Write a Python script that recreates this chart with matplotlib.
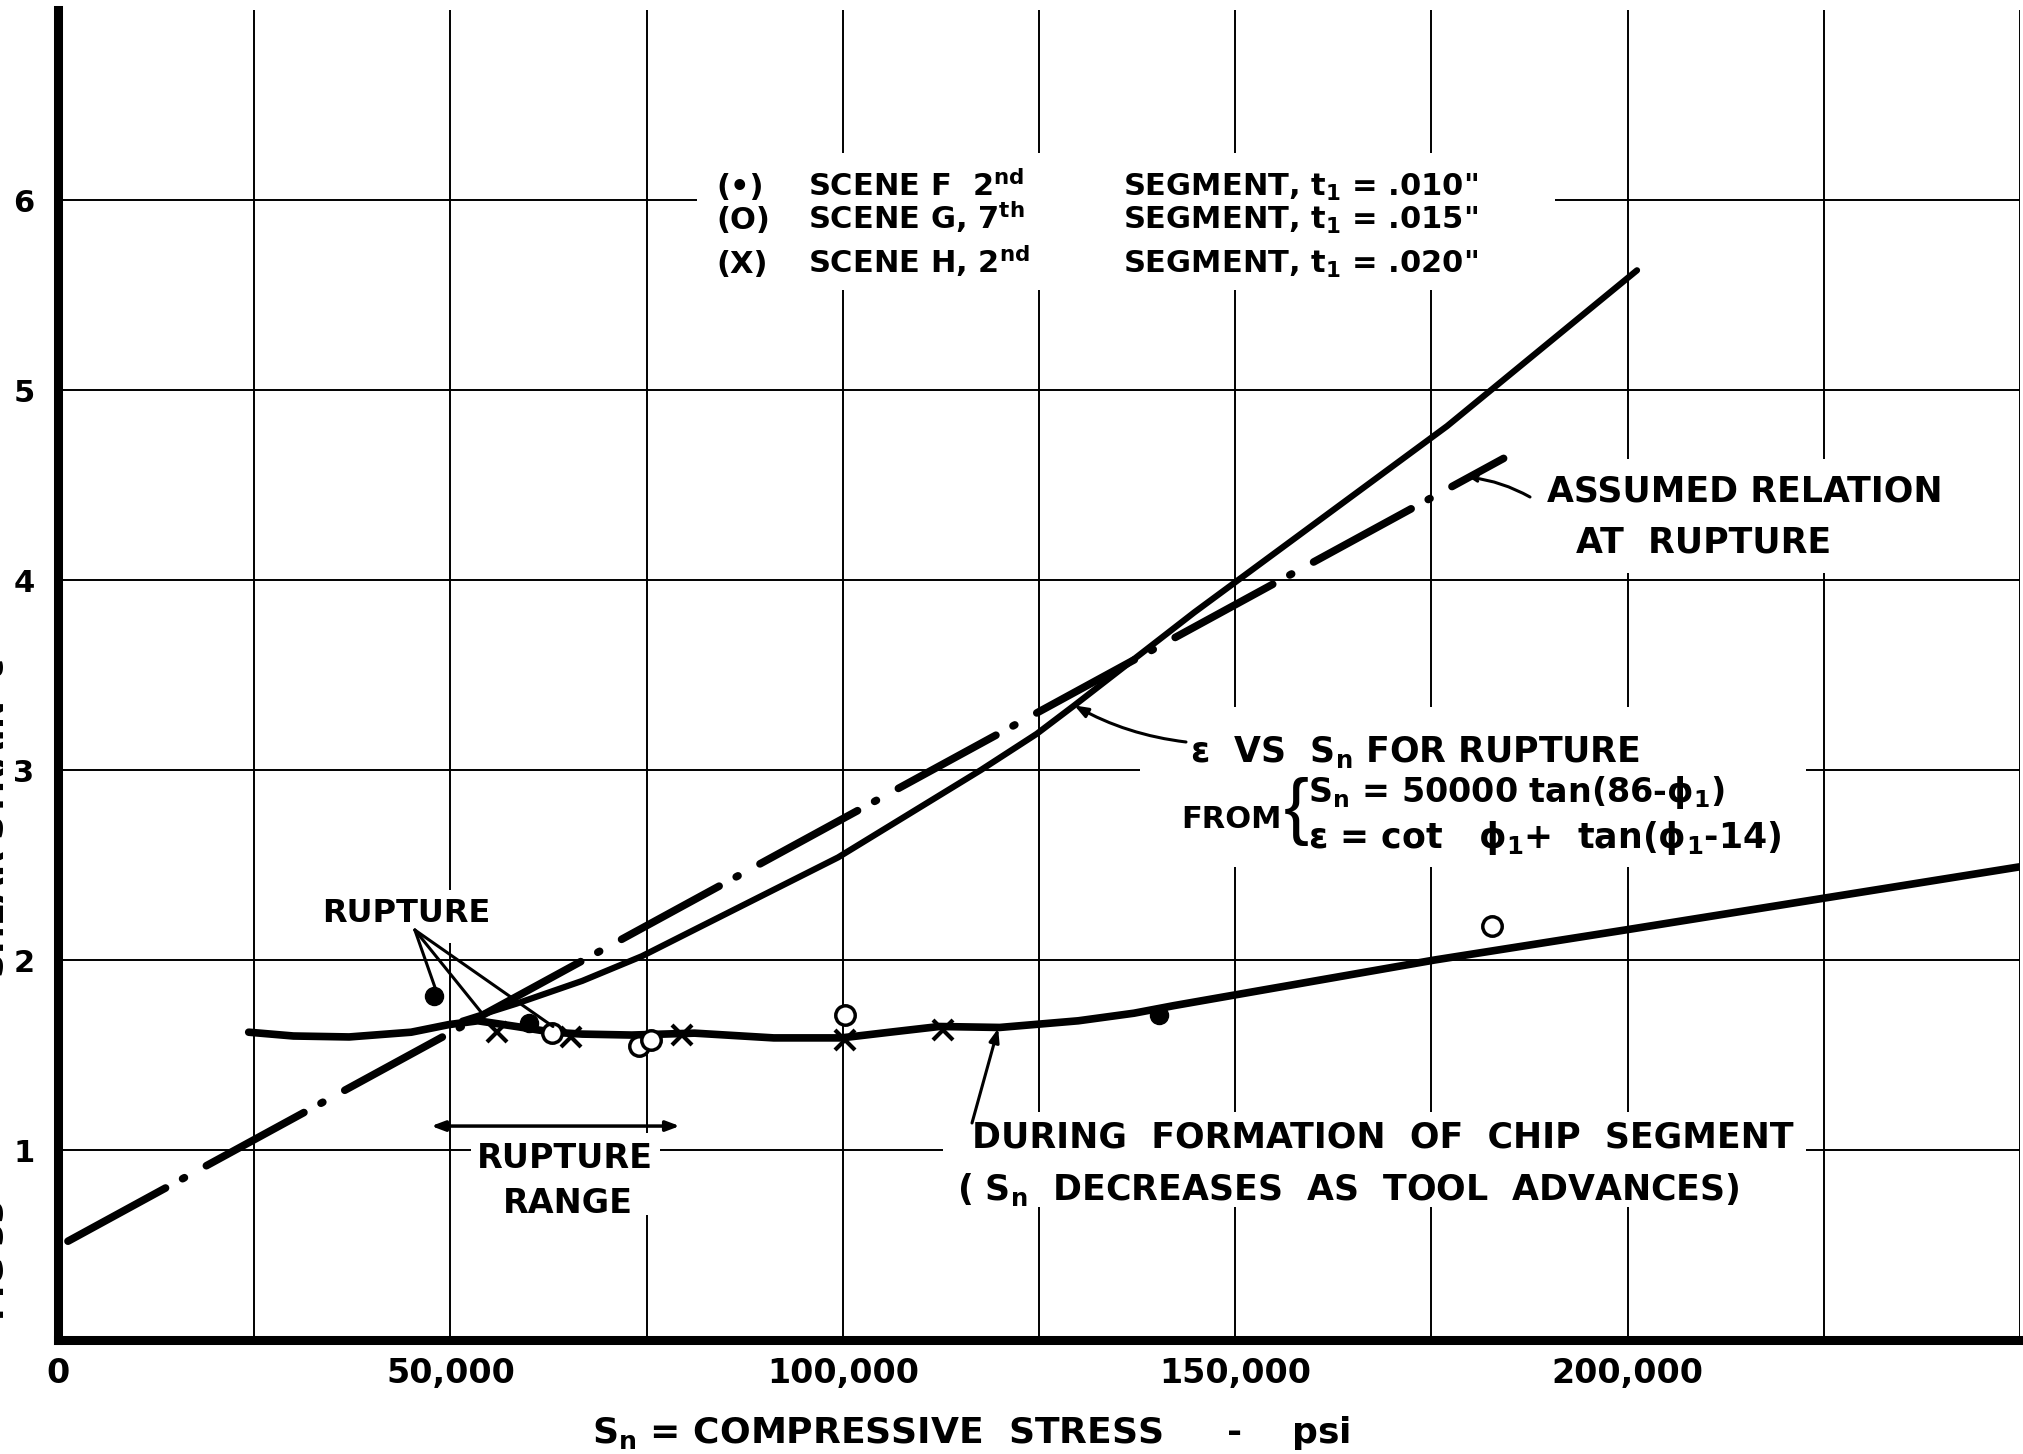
import matplotlib.pyplot as plt
from matplotlib.patches import Rectangle
import numpy as np

plt.rcParams['font.family'] = ['DejaVu Sans']
plt.rcParams['font.weight'] = 'bold'
plt.rcParams['mathtext.fontset'] = 'dejavusans'
plt.rcParams['mathtext.default'] = 'bf'
plt.rcParams['lines.scale_dashes'] = False

W, H = 2023, 1454

# ---- values (Sn in psi, strain) ----
rupture_sn = [51500, 58400, 66800, 74400, 81600, 99400, 117600, 124700,
              129500, 144800, 177000, 201200]
rupture_eps = [1.68, 1.77, 1.89, 2.02, 2.17, 2.54, 3.00, 3.19,
               3.34, 3.83, 4.81, 5.63]

assumed_sn = [1270, 184200]
assumed_eps = [0.52, 4.64]

formation_sn = [24300, 30000, 37100, 45000, 49800, 53500, 58400, 63000, 66800,
                73100, 81100, 91200, 99800, 106000, 112300, 120000, 130000,
                137100, 142200, 175400, 200000, 249900]
formation_eps = [1.62, 1.60, 1.595, 1.62, 1.66, 1.68, 1.65, 1.62, 1.61,
                 1.605, 1.615, 1.59, 1.59, 1.62, 1.65, 1.645, 1.68,
                 1.72, 1.76, 2.00, 2.16, 2.49]

scene_f_sn = [47900, 60000, 140300]
scene_f_eps = [1.81, 1.67, 1.71]
scene_g_sn = [62900, 74000, 75500, 100300, 182700]
scene_g_eps = [1.615, 1.55, 1.58, 1.71, 2.18]
scene_h_sn = [55900, 65400, 79500, 100300, 112800]
scene_h_eps = [1.62, 1.595, 1.605, 1.58, 1.63]

rupture_range = [47560, 79220]
rupture_range_eps = 1.126

x_ticks = list(range(0, 250001, 25000))
x_labels = ['0', '', '50,000', '', '100,000', '', '150,000', '', '200,000', '', '']
y_ticks = [0, 1, 2, 3, 4, 5, 6]
y_labels = ['', '1', '2', '3', '4', '5', '6']


def fx(p):
    return p / W


def fy(p):
    return 1 - p / H


fig = plt.figure(figsize=(W / 100, H / 100), dpi=100)
ax = fig.add_axes([fx(58), fy(1340), (2020 - 58) / W, (1340 - 10) / H])
ax.set_xlim(0, 250000)
ax.set_ylim(0, 7)

ax.set_xticks(x_ticks)
ax.set_xticklabels(x_labels, fontsize=24, fontweight='bold')
ax.set_yticks(y_ticks)
ax.set_yticklabels(y_labels, fontsize=22, fontweight='bold')
ax.tick_params(axis='x', length=0, pad=12)
ax.tick_params(axis='y', length=0, pad=17)
ax.grid(True, color='black', lw=1.4)
ax.set_axisbelow(True)
for s in ['top', 'right']:
    ax.spines[s].set_visible(False)
for s in ['left', 'bottom']:
    ax.spines[s].set_linewidth(6.5)

# white masks where the lettering interrupts the grid
masks = [(697, 153, 1555, 290), (1535, 459, 1960, 573), (1140, 707, 1806, 867),
         (943, 1112, 1806, 1207), (471, 1133, 660, 1215), (315, 890, 500, 943)]
for x0, y0, x1, y1 in masks:
    ax.add_patch(Rectangle((fx(x0), fy(y1)), (x1 - x0) / W, (y1 - y0) / H,
                           transform=fig.transFigure, fc='white', ec='none', zorder=1))

# curves
ax.plot(assumed_sn, assumed_eps, color='black', lw=5.5, solid_capstyle='round',
        dash_capstyle='round', linestyle=(0, (80, 14, 1.5, 18)), zorder=4)
ax.plot(rupture_sn, rupture_eps, color='black', lw=4.5, solid_capstyle='round',
        solid_joinstyle='round', zorder=4)
ax.plot(formation_sn, formation_eps, color='black', lw=5.5, solid_capstyle='round',
        solid_joinstyle='round', zorder=4)

# points
ax.plot(scene_f_sn, scene_f_eps, 'o', color='black', ms=13, zorder=5, linestyle='none')
ax.plot(scene_g_sn, scene_g_eps, 'o', mfc='white', mec='black', mew=2.5, ms=14, zorder=5,
        linestyle='none')
ax.plot(scene_h_sn, scene_h_eps, 'x', color='black', mew=3, ms=15, zorder=5, linestyle='none')

T = dict(fontweight='bold', color='black', zorder=6)

# legend block
rows = [196, 229, 273]
col1 = ['(•)', '(O)', '(X)']
col2 = [r'SCENE F  2$^{nd}$', r'SCENE G, 7$^{th}$', r'SCENE H, 2$^{nd}$']
col3 = [r'SEGMENT, t$_1$ = .010"', r'SEGMENT, t$_1$ = .015"', r'SEGMENT, t$_1$ = .020"']
for i, yb in enumerate(rows):
    fig.text(fx(716), fy(yb), col1[i], fontsize=22, va='baseline', **T)
    fig.text(fx(808), fy(yb), col2[i], fontsize=22, va='baseline', **T)
    fig.text(fx(1123), fy(yb), col3[i], fontsize=22, va='baseline', **T)

# assumed relation
fig.text(fx(1547), fy(502), 'ASSUMED RELATION', fontsize=25, va='baseline', **T)
fig.text(fx(1576), fy(553), 'AT  RUPTURE', fontsize=25, va='baseline', **T)
ax.annotate('', xy=(179800, 4.54), xycoords='data', xytext=(fx(1530), fy(497)),
            textcoords='figure fraction',
            arrowprops=dict(arrowstyle='->', lw=2.2, color='black',
                            connectionstyle='arc3,rad=0.1', shrinkA=0, shrinkB=0), zorder=6)

# epsilon vs Sn
fig.text(fx(1190), fy(762), r'ε  VS  S$_n$ FOR RUPTURE', fontsize=25, va='baseline', **T)
fig.text(fx(1181), fy(828), 'FROM', fontsize=22, va='baseline', **T)
fig.text(fx(1296), fy(812), '{', fontsize=54, va='center', ha='center',
         family='Liberation Sans', fontweight='normal', color='black', zorder=6)
fig.text(fx(1308), fy(802), r'S$_n$ = 50000 tan(86-ϕ$_1$)', fontsize=24, va='baseline', **T)
fig.text(fx(1308), fy(848), r'ε = cot   ϕ$_1$+  tan(ϕ$_1$-14)', fontsize=25, va='baseline', **T)
ax.annotate('', xy=(129500, 3.34), xycoords='data', xytext=(fx(1186), fy(742)),
            textcoords='figure fraction',
            arrowprops=dict(arrowstyle='-|>,head_length=0.8,head_width=0.3', lw=2.2,
                            color='black', connectionstyle='arc3,rad=-0.1',
                            shrinkA=0, shrinkB=0), zorder=6)

# during formation
fig.text(fx(972), fy(1147), 'DURING  FORMATION  OF  CHIP  SEGMENT', fontsize=25,
         va='baseline', **T)
fig.text(fx(957), fy(1200), r'( S$_n$  DECREASES  AS  TOOL  ADVANCES)', fontsize=25,
         va='baseline', **T)
ax.annotate('', xy=(119800, 1.64), xycoords='data', xytext=(fx(972), fy(1123)),
            textcoords='figure fraction',
            arrowprops=dict(arrowstyle='-|>,head_length=0.8,head_width=0.3', lw=2.2,
                            color='black', shrinkA=0, shrinkB=0), zorder=6)

# rupture leaders
fig.text(fx(322), fy(922), 'RUPTURE', fontsize=23, va='baseline', **T)
apex = (45470, 2.158)
for end in [(48450, 1.807), (54020, 1.72), (63070, 1.65)]:
    ax.annotate('', xy=end, xytext=apex,
                arrowprops=dict(arrowstyle='-', lw=2.2, color='black',
                                shrinkA=0, shrinkB=0), zorder=6)

# rupture range
ax.annotate('', xy=(rupture_range[0], rupture_range_eps),
            xytext=(rupture_range[1], rupture_range_eps),
            arrowprops=dict(arrowstyle='<|-|>,head_length=0.8,head_width=0.3', lw=2.5,
                            color='black', shrinkA=0, shrinkB=0), zorder=6)
fig.text(fx(477), fy(1168), 'RUPTURE', fontsize=24, va='baseline', **T)
fig.text(fx(503), fy(1213), 'RANGE', fontsize=24, va='baseline', **T)

# axis titles (the y title is cut off at the left edge, as in the scan)
fig.text(fx(971), fy(1443), r'S$_n$ = COMPRESSIVE  STRESS     -    psi', fontsize=26,
         ha='center', va='baseline', **T)
fig.text(-5.5 / W, fy(818), 'SHEAR STRAIN  ε', fontsize=24, rotation=90,
         ha='center', va='center', **T)
fig.text(-5.5 / W, fy(1260), 'FIG 33', fontsize=24, rotation=90,
         ha='center', va='center', **T)

fig.savefig('out.png', dpi=100)
